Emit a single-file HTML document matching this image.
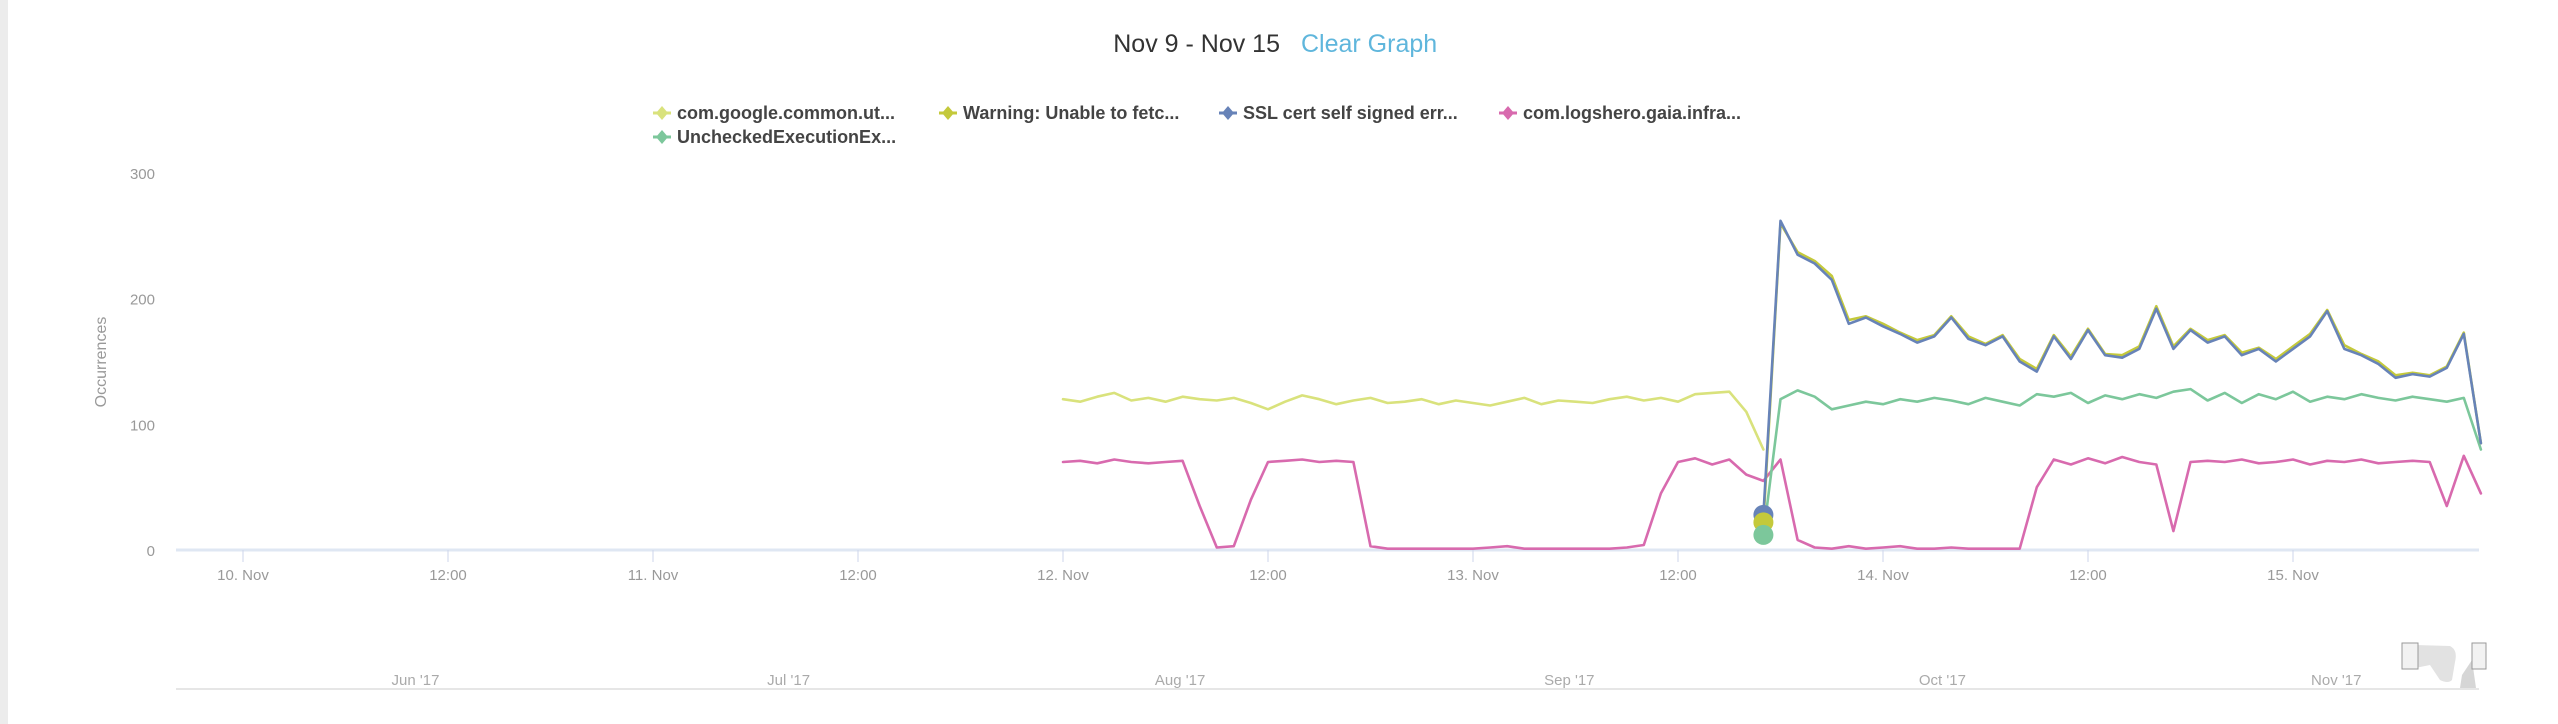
<!DOCTYPE html>
<html><head><meta charset="utf-8"><style>
html,body{margin:0;padding:0;background:#fff;width:2558px;height:724px;overflow:hidden}
svg{display:block;font-family:"Liberation Sans",sans-serif}
</style></head><body>
<svg id="chart" width="2558" height="724" viewBox="0 0 2558 724">
<rect x="0" y="0" width="8" height="724" fill="#ececec"/>
<text x="1280" y="52" font-size="25" fill="#333" text-anchor="end">Nov 9 - Nov 15</text>
<text x="1301" y="52" font-size="25" fill="#5fb6dc" style="cursor:pointer">Clear Graph</text>
<g id="legend"></g>
<text transform="translate(106,362) rotate(-90)" font-size="16" fill="#999" text-anchor="middle">Occurrences</text>
<g id="yaxis"></g>
<g id="xaxis"></g>
<g id="series"></g>
<g id="nav"></g>
</svg>
<script>
const legendNames=["com.google.common.ut...","Warning: Unable to fetc...","SSL cert self signed err...","com.logshero.gaia.infra...","UncheckedExecutionEx..."];
const seriesColors=["#d9e27c","#c4c93b","#6783b8","#d86aae","#7cc79b"];
const yTicks=[0,100,200,300];
const xTickHours=[-48,-36,-24,-12,0,12,24,36,48,60,72];
const xTickLabels=["10. Nov","12:00","11. Nov","12:00","12. Nov","12:00","13. Nov","12:00","14. Nov","12:00","15. Nov"];
const navLabels=["Jun '17","Jul '17","Aug '17","Sep '17","Oct '17","Nov '17"];
const navLabelFrac=[0.104,0.266,0.436,0.605,0.767,0.938];
// hourly values starting at 12 Nov 00:00
const googleVals=[120,118,122,125,119,121,118,122,120,119,121,117,112,118,123,120,116,119,121,117,118,120,116,119,117,115,118,121,116,119,118,117,120,122,119,121,118,124,125,126,110,80];
const googleStart=0;
const pinkVals=[70,71,69,72,70,69,70,71,35,2,3,40,70,71,72,70,71,70,3,1,1,1,1,1,1,2,3,1,1,1,1,1,1,2,4,45,70,73,68,72,60,55,72,8,2,1,3,1,2,3,1,1,2,1,1,1,1,50,72,68,73,69,74,70,68,15,70,71,70,72,69,70,72,68,71,70,72,69,70,71,70,35,75,45];
const pinkStart=0;
const greenVals=[12,120,127,122,112,115,118,116,120,118,121,119,116,121,118,115,124,122,125,117,123,120,124,121,126,128,119,125,117,124,120,126,118,122,120,124,121,119,122,120,118,121,80];
const greenStart=41;
const sslVals=[28,262,235,228,215,180,185,178,172,165,170,185,168,163,170,150,142,170,152,175,155,153,160,192,160,175,165,170,155,160,150,160,170,190,160,155,148,137,140,138,145,172,85];
const sslStart=41;
const warnVals=[22,260,237,230,218,183,186,180,173,167,171,186,170,164,171,152,144,171,154,176,156,155,162,194,162,176,167,171,157,161,152,162,172,191,163,156,150,139,141,139,146,173,85];
const warnStart=41;

const NS="http://www.w3.org/2000/svg";
function mk(tag,attrs,parent){const e=document.createElementNS(NS,tag);for(const k in attrs)e.setAttribute(k,attrs[k]);parent.appendChild(e);return e;}
const X0=1063, PXH=205/12, Y0=550, PXV=377/300, PL=176, PR=2479;
const xs=h=>X0+h*PXH, ys=v=>Y0-v*PXV;

// legend
const leg=document.getElementById('legend');
const legPos=[[662,113],[948,113],[1228,113],[1508,113],[662,137]];
legendNames.forEach((n,i)=>{
  const g=mk('g',{},leg);
  
  
  const [lx,ly]=legPos[i];
  mk('line',{x1:lx-9,y1:ly,x2:lx+9,y2:ly,stroke:seriesColors[i],'stroke-width':3},g);
  mk('path',{d:`M${lx} ${ly-7}L${lx+6} ${ly}L${lx} ${ly+7}L${lx-6} ${ly}Z`,fill:seriesColors[i]},g);
  const t=mk('text',{x:lx+15,y:ly+6,'font-size':18,'font-weight':'bold',fill:'#444'},g);t.textContent=n;
});
// y axis
const ya=document.getElementById('yaxis');
yTicks.forEach(v=>{
  const t=mk('text',{x:155,y:ys(v)+6,'font-size':15,fill:'#999','text-anchor':'end'},ya);
  
  
  t.textContent=v;
});
mk('line',{x1:PL,y1:Y0,x2:PR,y2:Y0,stroke:'#dfe7f3','stroke-width':3},ya);
// x axis
const xa=document.getElementById('xaxis');
xTickHours.forEach((h,i)=>{
  mk('line',{x1:xs(h),y1:Y0,x2:xs(h),y2:Y0+12,stroke:'#ccd6eb','stroke-width':1},xa);
  const t=mk('text',{x:xs(h),y:580,'font-size':15,fill:'#999','text-anchor':'middle'},xa);
  
  
  t.textContent=xTickLabels[i];
});
// series
const sg=document.getElementById('series');
function line(vals,start,color,name){
  const pts=vals.map((v,i)=>xs(start+i).toFixed(1)+','+ys(v).toFixed(1)).join(' ');
  const p=mk('polyline',{points:pts,fill:'none',stroke:color,'stroke-width':2.6,'stroke-linejoin':'round','stroke-linecap':'round'},sg);
  
  
}
line(googleVals,googleStart,seriesColors[0],'series-google-common');
line(pinkVals,pinkStart,seriesColors[3],'series-logshero-gaia');
line(greenVals,greenStart,seriesColors[4],'series-unchecked-execution');
line(warnVals,warnStart,seriesColors[1],'series-warning-unable-fetch');
line(sslVals,sslStart,seriesColors[2],'series-ssl-cert');
[[sslVals[0],seriesColors[2]],[warnVals[0],seriesColors[1]],[greenVals[0],seriesColors[4]]].forEach(([v,c])=>{
  const d=mk('circle',{cx:xs(sslStart),cy:ys(v),r:10,fill:c},sg);
  
  
});
// navigator
const nv=document.getElementById('nav');
navLabels.forEach((l,i)=>{
  const t=mk('text',{x:PL+navLabelFrac[i]*(PR-PL),y:685,'font-size':15,fill:'#aaa','text-anchor':'middle'},nv);
  
  
  t.textContent=l;
});
mk('line',{x1:PL,y1:689,x2:PR,y2:689,stroke:'#e6e6e6','stroke-width':2},nv);
mk('path',{d:'M2415 645 L2450 646 Q2458 650 2455 662 L2452 680 Q2448 684 2440 680 L2430 665 L2415 668Z',fill:'#e2e2e2'},nv);
mk('path',{d:'M2460 688 L2462 675 L2472 660 L2476 688Z',fill:'#d6d6d6'},nv);
const h1=mk('rect',{x:2402,y:643,width:16,height:26,fill:'#f2f2f2',stroke:'#999','stroke-width':1},nv);


const h2=mk('rect',{x:2472,y:643,width:14,height:26,fill:'#f2f2f2',stroke:'#999','stroke-width':1},nv);


</script>
</body></html>
